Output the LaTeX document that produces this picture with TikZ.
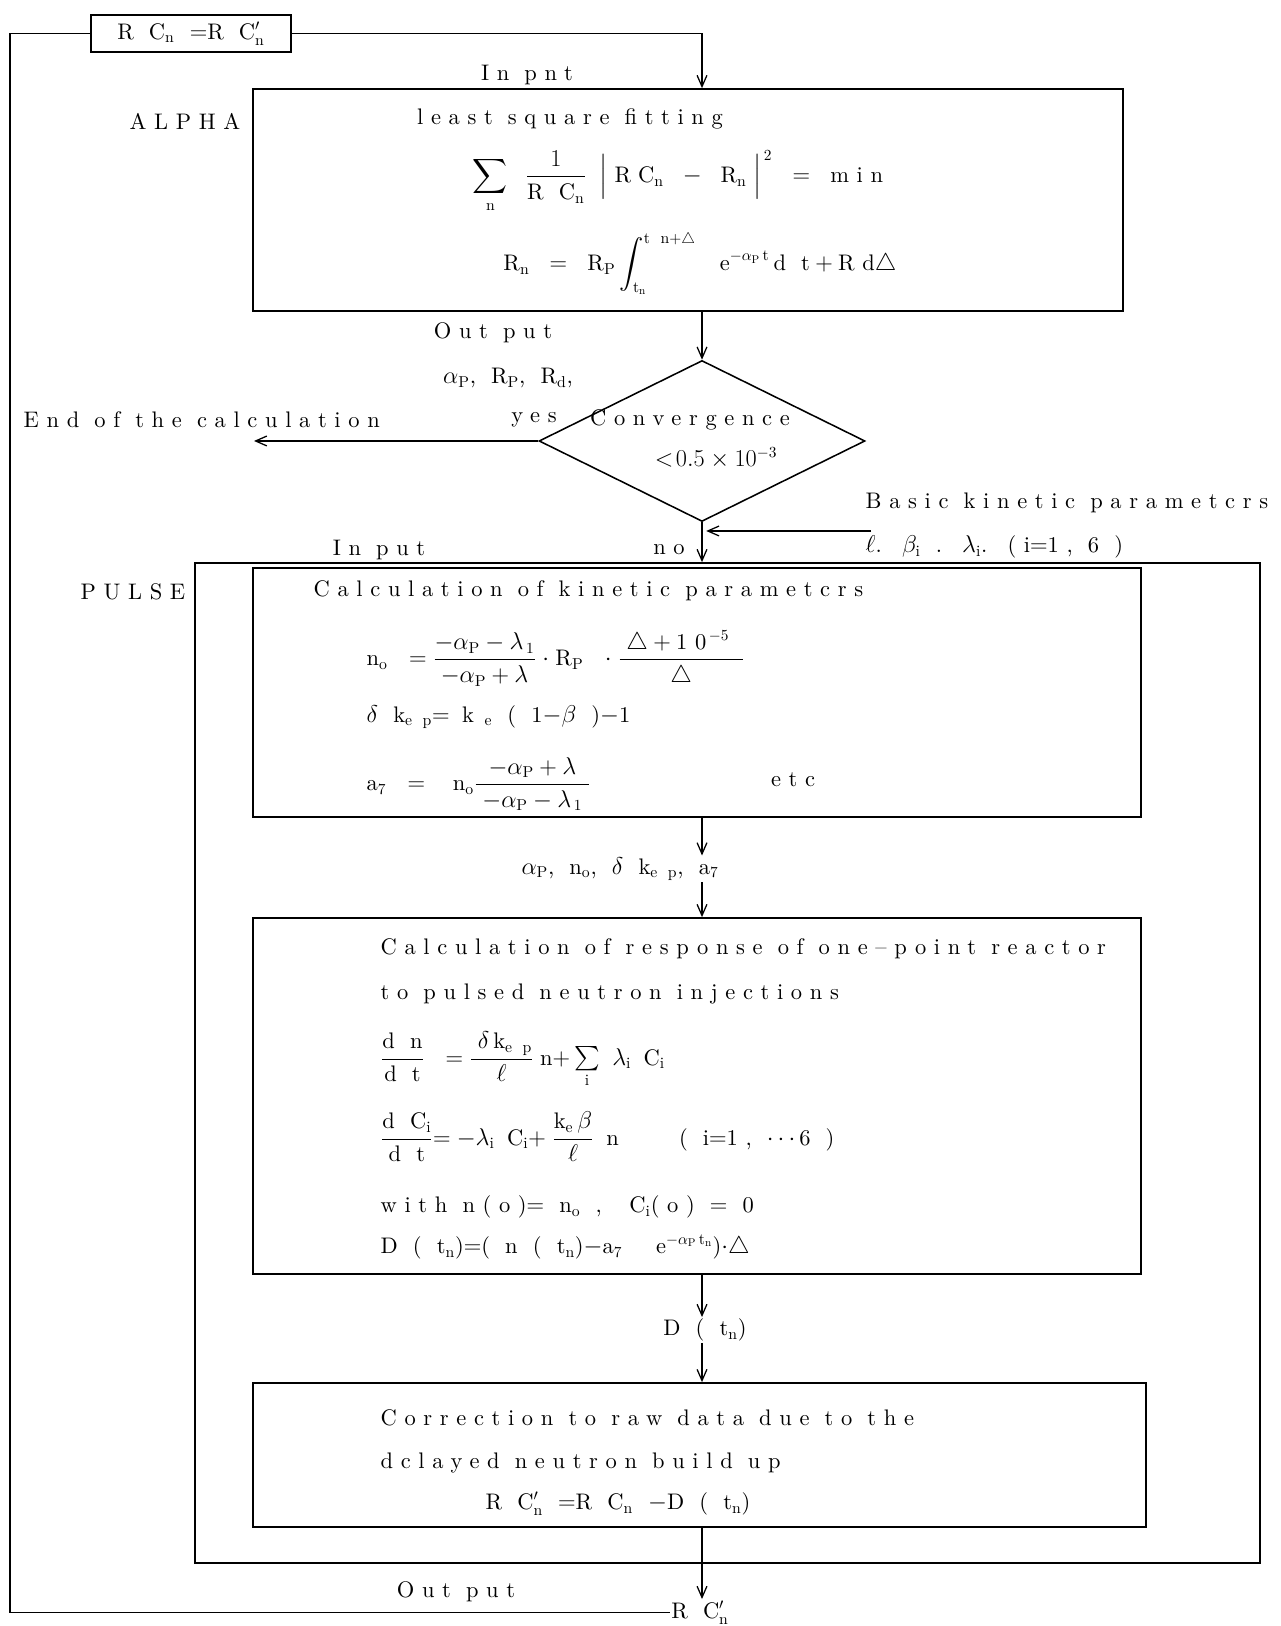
\documentclass[tikz,border=0pt]{standalone}
\usepackage{fontspec}
\usepackage{amsmath}
\usetikzlibrary{shapes.geometric,arrows.meta}
\newfontfamily\widefont{lmroman10-regular.otf}[LetterSpace=34]

\begin{document}
\begin{tikzpicture}[
  >={Straight Barb[length=8pt,width=7pt]},
  every node/.style={font=\widefont\fontsize{16}{19}\selectfont, inner sep=1pt},
  box/.style={draw, line width=1.2pt, inner sep=0pt},
  flow/.style={->, line width=0.9pt},
  loop/.style={line width=1.1pt}
]
\useasboundingbox (0,0) rectangle (32,40.65);
\coordinate (axis) at (17.55,0);
\coordinate (loopx) at (0.25,0);

% ============================================================
% TOP: replacement box and ALPHA block
% ============================================================
\node[box, minimum width=5cm, minimum height=0.925cm] (rcbox) at (4.775,39.81) {R C$_{\text{n}}$ $=$R C$'_{\text{n}}$};
\node (inpnt) at (13.175,38.775) {In pnt};

\node[box, minimum width=21.75cm, minimum height=5.55cm] (alpha) at (17.2,35.65) {};
\node[anchor=east] (alphalbl) at (6.05,37.625) {ALPHA};
\node (lsq) at (14.25,37.675) {least square fitting};
\node (sumeq) at (16.95,36.1) {$\displaystyle\sum_{\text{n}}\;\;\frac{1}{\text{R C}_{\text{n}}}\;\;\Bigl|\;\text{RC}_{\text{n}}\;\;-\;\;\text{R}_{\text{n}}\;\Bigr|^{\,2}\;\;=\;\;\text{min}$};
\node (rneq) at (17.5,34.05) {$\text{R}_{\text{n}}\;\;=\;\;\text{R}_{\text{P}}\displaystyle\int_{\text{t}_{\text{n}}}^{\text{t n}+\triangle}\;\;\;\text{e}^{-\alpha_{\text{P}}\,\text{t}}\,\text{d t}+\text{Rd}\triangle$};

\node (output1) at (12.325,32.325) {Out put};
\node (alphaout) at (12.7,31.2) {$\alpha_{\text{P}}$, R$_{\text{P}}$, R$_{\text{d}}$,};

% ============================================================
% CONVERGENCE TEST
% ============================================================
\node[diamond, draw, line width=1.1pt, minimum width=8.15cm, minimum height=4.025cm, inner sep=0pt] (conv) at (17.55,29.625) {};
\node (convtxt) at (17.25,30.15) {Convergence};
\node (convlim) at (17.9,29.2) {$<\!0.5\times10^{-3}$};
\node (yes) at (13.35,30.15) {yes};
\node[anchor=west] (endcalc) at (0.55,30.15) {End of the calculation};
\coordinate (endpt) at (6.35,29.625);
\node (no) at (16.725,26.9) {no};
\node (input2) at (9.475,26.9) {In put};

\node[anchor=west] (basic) at (21.6,28.075) {Basic kinetic parametcrs};
\node[anchor=west] (basicval) at (21.6,26.975) {$\ell$. $\beta_{\text{i}}$ . $\lambda_{\text{i}}$. (i$=$1, 6 )};
\coordinate (kinsrc) at (21.775,27.375);

% ============================================================
% PULSE block
% ============================================================
\node[box, minimum width=26.625cm, minimum height=25cm] (pulse) at (18.19,14.075) {};
\node (pulselbl) at (3.325,25.85) {PULSE};

% kinetic parameters
\node[box, minimum width=22.2cm, minimum height=6.225cm] (kin) at (17.425,23.34) {};
\node[anchor=west] (kintitle) at (7.8,25.875) {Calculation of kinetic parametcrs};
\node[anchor=west] (noeq) at (9.125,24.175) {n$_{\text{o}}$ \;$=$\;$\dfrac{-\alpha_{\text{P}}-\lambda_{\,1}}{-\alpha_{\text{P}}+\lambda}$\;$\cdot$\;R$_{\text{P}}$ \;$\cdot$\;$\dfrac{\;\triangle+\text{10}^{\,-5}\;\;}{\triangle}$};
\node[anchor=west] (dkeq) at (9.125,22.725) {$\delta$ k$_{\text{e p}}$$=$\;\;k$_{\text{ e}}$ ( 1$-\beta$ )$-$1};
\node[anchor=west] (a7eq) at (9.125,21.05) {a$_7$ \;$=$\;\; n$_{\text{o}}$$\dfrac{\;-\alpha_{\text{P}}+\lambda\;}{\;-\alpha_{\text{P}}-\lambda_{\,1}\;}$};
\node (etc) at (19.825,21.15) {etc};

\node (params) at (15.5,18.925) {$\alpha_{\text{P}}$, n$_{\text{o}}$, $\delta$ k$_{\text{e p}}$, a$_7$};

% one-point reactor response
\node[box, minimum width=22.2cm, minimum height=8.9cm] (resp) at (17.425,13.25) {};
\node[anchor=west] (resp1) at (9.475,16.925) {Calculation of response of one\textendash point reactor};
\node[anchor=west] (resp2) at (9.475,15.8) {to pulsed neutron injections};
\node[anchor=west] (dneq) at (9.475,14.15) {$\dfrac{\text{d n}}{\text{d t}}$ \;$=$\;$\dfrac{\;\delta\,\text{k}_{\text{e p}}}{\ell}$\;n$+\sum\limits_{\text{i}}$\;\;$\lambda_{\text{i}}$\;\;C$_{\text{i}}$};
\node[anchor=west] (dceq) at (9.475,12.225) {$\dfrac{\text{d C}_{\text{i}}}{\text{d t}}$$=$\;$-\lambda_{\text{i}}$\;\;C$_{\text{i}}$$+$\;$\dfrac{\text{k}_{\text{e}}\,\beta}{\ell}$\;\;n \qquad ( i$=$1, $\cdots$6 )};
\node[anchor=west] (initeq) at (9.475,10.475) {with n(o)$=$ n$_{\text{o}}$ ,\;\; C$_{\text{i}}$(o) $=$ 0};
\node[anchor=west] (dteq) at (9.475,9.475) {D ( t$_{\text{n}}$)$=$( n ( t$_{\text{n}}$)$-$a$_7$\;\;\; e$^{-\alpha_{\text{P}}\,\text{t}_{\text{n}}}$)$\cdot\triangle$};

\node (dtn) at (17.625,7.4) {D ( t$_{\text{n}}$)};

% correction
\node[box, minimum width=22.325cm, minimum height=3.6cm] (corr) at (17.49,4.275) {};
\node[anchor=west] (corr1) at (9.475,5.2) {Correction to raw data due to the};
\node[anchor=west] (corr2) at (9.475,4.075) {dclayed neutron build up};
\node (correq) at (15.45,3.05) {R C$'_{\text{n}}$ $=$R C$_{\text{n}}$ $-$D ( t$_{\text{n}}$)};

\node (output2) at (11.4,0.85) {Out put};
\node (rcout) at (17.5,0.34) {R C$'_{\text{n}}$};

% ============================================================
% CONNECTORS
% ============================================================
\draw[loop] (rcout.west) -- (rcout.west -| loopx) |- (rcbox.west);
\draw[flow] (rcbox.east) -| (alpha.north -| axis);
\draw[flow] (alpha.south -| axis) -- (conv.north);
\draw[flow] (conv.west) -- (endpt);
\draw[flow] (conv.south) -- (pulse.north -| axis);
\draw[flow, shorten >=3pt] (kinsrc) -- (kinsrc -| axis);
\draw[flow] (kin.south -| axis) -- (params.north -| axis);
\draw[flow] (params.south -| axis) -- (resp.north -| axis);
\draw[flow] (resp.south -| axis) -- (dtn.north -| axis);
\draw[flow] (dtn.south -| axis) -- (corr.north -| axis);
\draw[flow] (corr.south -| axis) -- (rcout.north -| axis);

\end{tikzpicture}
\end{document}
